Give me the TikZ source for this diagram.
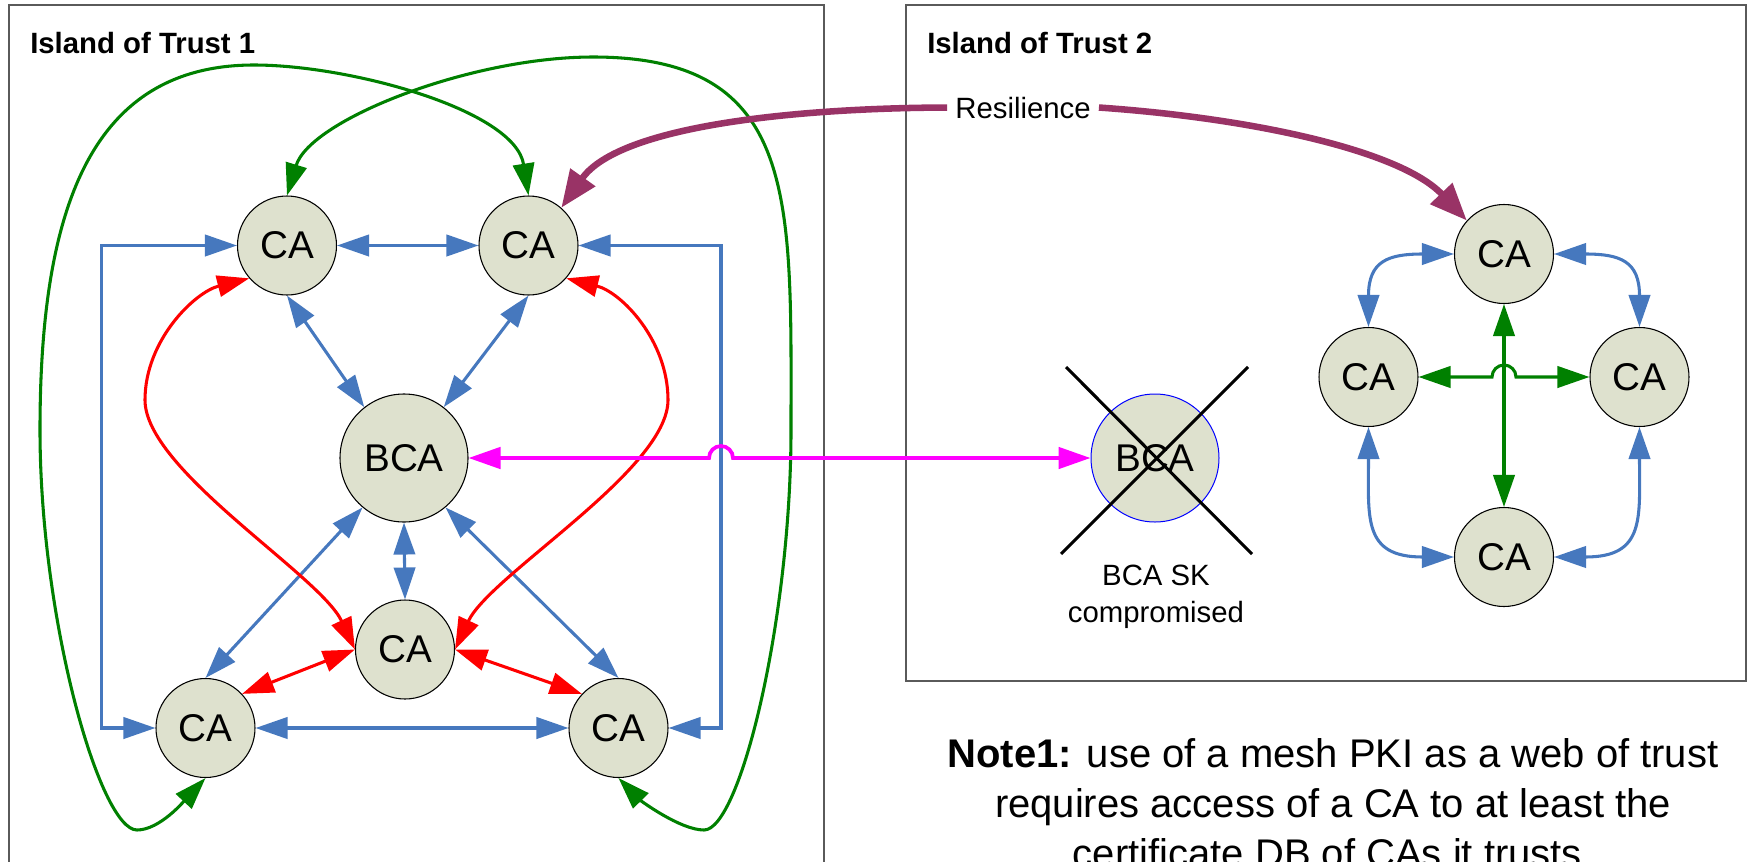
\documentclass[tikz,border=0pt]{standalone}
\usepackage{fontspec}
\setmainfont{Liberation Sans}
\usetikzlibrary{arrows.meta}

\definecolor{cafill}{RGB}{222,225,206}
\definecolor{linkblue}{RGB}{70,120,190}
\definecolor{trustgreen}{RGB}{0,128,0}
\definecolor{resil}{RGB}{153,51,102}
\definecolor{bridgemag}{RGB}{255,0,255}
\definecolor{framegray}{RGB}{90,90,90}

\tikzset{
  islandframe/.style={draw=framegray, line width=1.1pt},
  title/.style={font=\bfseries\fontsize{22}{26}\selectfont, inner sep=0pt, anchor=base west},
  ca/.style={circle, draw=black, line width=0.8pt, fill=cafill, minimum size=74.25pt,
             inner sep=0pt, font=\fontsize{29}{34}\selectfont},
  bca/.style={ca, minimum size=96pt},
  link/.style={line width=2.3pt, >={Triangle[length=24pt,width=16pt]}},
  bluelink/.style={link, draw=linkblue, <->},
  redlink/.style={link, draw=red, <->},
  greenlink/.style={link, draw=trustgreen, <->},
  maglink/.style={link, draw=bridgemag, line width=2.8pt, <->},
  reslink/.style={draw=resil, line width=4.9pt, >={Triangle[length=28pt,width=22pt]}},
  xline/.style={draw=black, line width=2.3pt},
  small/.style={font=\fontsize{22}{27.5}\selectfont, inner sep=0pt},
  notetext/.style={font=\fontsize{30}{37.5}\selectfont, inner sep=0pt, align=center}
}

\begin{document}
\begin{tikzpicture}[x=0.75pt,y=0.75pt]
\useasboundingbox (0,0) rectangle (1754,-861);
\clip (0,0) rectangle (1754,-861);

% the two islands
\draw[islandframe] (9,-5) rectangle (824,-890);
\draw[islandframe] (906,-5) rectangle (1746,-681);
\node[title] (title1) at (30,-53) {Island of Trust 1};
\node[title] (title2) at (927,-53) {Island of Trust 2};

% island 1 nodes
\node[ca] (tl) at (287,-245.5) {CA};
\node[ca] (tr) at (528.5,-245.5) {CA};
\node[bca] (bca) at (404,-458) {BCA};
\node[ca] (mid) at (405,-649.5) {CA};
\node[ca] (bl) at (205.5,-728) {CA};
\node[ca] (br) at (618.5,-728) {CA};

% island 2 nodes
\node[ca] (ct) at (1504,-254) {CA};
\node[ca] (cl) at (1368.5,-377) {CA};
\node[ca] (cr) at (1639.5,-377) {CA};
\node[ca] (cb) at (1504,-557) {CA};
\node[bca, draw=blue, line width=0.75pt] (bcax) at (1155,-458) {BCA};

% island 1: hierarchy links
\draw[bluelink] (tl.east) -- (tr.west);
\draw[bluelink] (tl.south) -- (bca.128);
\draw[bluelink] (tr.south) -- (bca.52);
\draw[bluelink] (bca.230) -- (bl.north);
\draw[bluelink] (bca.310) -- (br.north);
\draw[bluelink] (bca.south) -- (mid.north);
\draw[bluelink] (bl.east) -- (br.west);
\coordinate (lw) at (101.5,-245.5);
\coordinate (rw) at (721,-245.5);
\draw[bluelink] (tl.west) -- (lw) |- (bl.west);
\draw[bluelink] (tr.east) -- (rw) |- (br.east);

% island 1: cross links
\draw[redlink] (tl.221) .. controls (195,-292) and (145,-340) .. (145,-400)
  .. controls (145,-470) and (320,-575) .. (mid.west);
\draw[redlink] (tr.-41) .. controls (621,-292) and (668,-340) .. (668,-400)
  .. controls (668,-470) and (490,-575) .. (mid.east);
\draw[redlink] (mid.west) -- (bl.43);
\draw[redlink] (mid.east) -- (br.137);

\draw[greenlink] (tl.north) .. controls (310,-120) and (470,-57) .. (593,-57)
  .. controls (800,-57) and (791,-200) .. (791,-430)
  .. controls (791,-620) and (740,-830) .. (704,-830)
  .. controls (680,-830) and (640,-800) .. (br.south);
\draw[greenlink] (tr.north) .. controls (515,-110) and (350,-65) .. (254,-65)
  .. controls (90,-65) and (40,-210) .. (40,-430)
  .. controls (40,-620) and (100,-830) .. (137,-830)
  .. controls (160,-830) and (185,-800) .. (bl.south);

% link between the two bridge CAs, hopping over the blue line
\coordinate (hop1) at (rw |- bca.east);
\draw[maglink] (bca.east) -- ([xshift=-9pt]hop1)
  arc[start angle=180,end angle=0,radius=9pt] -- (bcax.west);

% resilience link
\node[font=\fontsize{22}{26}\selectfont, inner sep=6pt, anchor=base] (res) at (1023,-118) {Resilience};
\draw[reslink, <-] (tr.49) .. controls (620,-125) and (800,-108) .. (res.west);
\draw[reslink, ->] (res.east) .. controls (1250,-118) and (1400,-150) .. (ct.138);

% island 2: mesh links
\draw[bluelink] (ct.west) to[out=180,in=90,looseness=1.5] (cl.north);
\draw[bluelink] (ct.east) to[out=0,in=90,looseness=1.5] (cr.north);
\draw[bluelink] (cl.south) to[out=-90,in=180,looseness=1.5] (cb.west);
\draw[bluelink] (cr.south) to[out=-90,in=0,looseness=1.5] (cb.east);
\draw[greenlink] (ct.south) -- (cb.north);
\coordinate (hop2) at (ct.south |- cl.east);
\draw[greenlink] (cl.east) -- ([xshift=-9pt]hop2)
  arc[start angle=180,end angle=0,radius=9pt] -- (cr.west);

% compromised bridge CA
\draw[xline] ([shift={(-89,91)}]bcax.center) -- ([shift={(97,-96)}]bcax.center);
\draw[xline] ([shift={(93,91)}]bcax.center) -- ([shift={(-94,-96)}]bcax.center);
\node[small, align=center, anchor=base] (sk) at (1156,-622) {BCA SK\\compromised};

% note
\node[notetext, anchor=base] (note) at (1333,-867)
  {\textbf{Note1:} use of a mesh PKI as a web of trust\\requires access of a CA to at least the\\certificate DB of CAs it trusts.};
\end{tikzpicture}
\end{document}
